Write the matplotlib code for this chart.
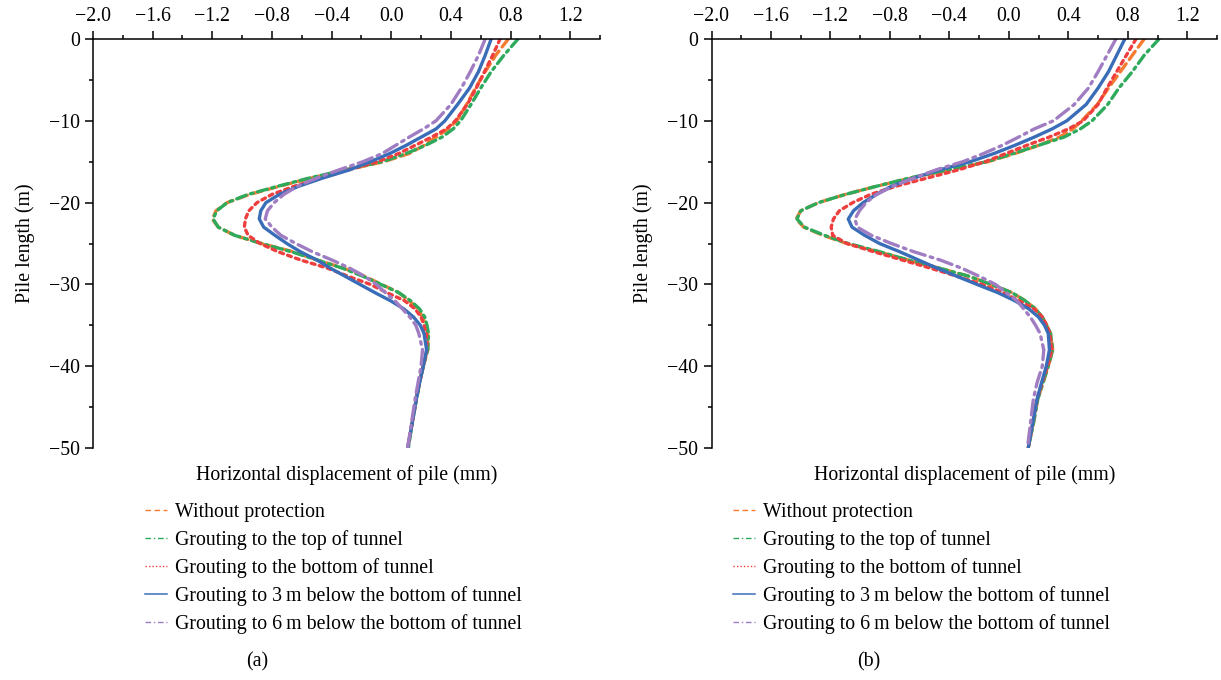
import matplotlib
matplotlib.use("Agg")
import matplotlib.pyplot as plt
from matplotlib.lines import Line2D
from matplotlib.ticker import MultipleLocator

plt.rcParams["font.family"] = ["Liberation Serif", "DejaVu Serif"]
plt.rcParams["font.size"] = 14.3

# pile depth (m), shared by every curve
depth = [0, -2, -4, -6, -8, -10, -11, -12, -13, -14, -15, -16, -17, -18, -19,
         -20, -21, -22, -23, -24, -25, -26, -27, -28, -29, -30, -31, -32, -33,
         -34, -35, -36, -38, -40, -42, -44, -47, -50]

labels = ["Without protection",
          "Grouting to the top of tunnel",
          "Grouting to the bottom of tunnel",
          "Grouting to 3\u2009m below the bottom of tunnel",
          "Grouting to 6\u2009m below the bottom of tunnel"]

# ---- panel (a): horizontal displacement (mm)
a_without = [0.785, 0.70, 0.63, 0.565, 0.505, 0.44, 0.38, 0.30, 0.22, 0.12, -0.05, -0.30, -0.54, -0.75, -0.95,
             -1.10, -1.175, -1.20, -1.16, -1.05, -0.87, -0.66, -0.50, -0.32, -0.18, -0.065, 0.05, 0.12, 0.18,
             0.21, 0.23, 0.245, 0.245, 0.215, 0.19, 0.168, 0.14, 0.11]
a_top = [0.85, 0.755, 0.67, 0.60, 0.535, 0.465, 0.415, 0.34, 0.23, 0.10, -0.06, -0.31, -0.55, -0.76, -0.96,
         -1.10, -1.17, -1.195, -1.16, -1.05, -0.87, -0.67, -0.50, -0.33, -0.19, -0.07, 0.05, 0.13, 0.19,
         0.225, 0.24, 0.25, 0.245, 0.215, 0.19, 0.17, 0.14, 0.115]
a_bottom = [0.73, 0.68, 0.625, 0.57, 0.51, 0.43, 0.37, 0.27, 0.16, 0.05, -0.09, -0.29, -0.47, -0.65, -0.80,
            -0.90, -0.955, -0.978, -0.985, -0.96, -0.88, -0.76, -0.61, -0.43, -0.29, -0.14, -0.03, 0.09, 0.16,
            0.20, 0.22, 0.235, 0.24, 0.215, 0.19, 0.168, 0.14, 0.11]
a_3m = [0.67, 0.63, 0.585, 0.525, 0.445, 0.36, 0.30, 0.20, 0.10, -0.01, -0.14, -0.28, -0.46, -0.62, -0.75,
        -0.84, -0.875, -0.885, -0.855, -0.78, -0.70, -0.61, -0.50, -0.41, -0.31, -0.21, -0.11, -0.005, 0.085,
        0.15, 0.195, 0.22, 0.237, 0.215, 0.19, 0.168, 0.14, 0.11]
a_6m = [0.63, 0.585, 0.53, 0.47, 0.40, 0.30, 0.215, 0.12, 0.03, -0.06, -0.19, -0.35, -0.50, -0.63, -0.72,
        -0.785, -0.83, -0.845, -0.80, -0.74, -0.64, -0.53, -0.40, -0.28, -0.18, -0.10, -0.04, 0.025, 0.075,
        0.125, 0.165, 0.185, 0.21, 0.20, 0.18, 0.16, 0.135, 0.11]

# ---- panel (b)
b_without = [0.91, 0.83, 0.75, 0.67, 0.595, 0.49, 0.43, 0.34, 0.20, 0.04, -0.14, -0.40, -0.66, -0.89, -1.10,
             -1.28, -1.40, -1.43, -1.38, -1.25, -1.09, -0.88, -0.68, -0.47, -0.27, -0.12, 0.02, 0.11, 0.18,
             0.225, 0.255, 0.28, 0.295, 0.265, 0.23, 0.195, 0.165, 0.13]
b_top = [1.01, 0.91, 0.83, 0.74, 0.665, 0.56, 0.48, 0.37, 0.20, 0.03, -0.15, -0.41, -0.67, -0.89, -1.10,
         -1.28, -1.40, -1.425, -1.375, -1.24, -1.08, -0.87, -0.68, -0.47, -0.27, -0.12, 0.02, 0.11, 0.18,
         0.225, 0.255, 0.28, 0.295, 0.265, 0.23, 0.195, 0.165, 0.13]
b_bottom = [0.855, 0.79, 0.725, 0.66, 0.60, 0.50, 0.40, 0.27, 0.12, -0.02, -0.16, -0.34, -0.55, -0.76, -0.93,
            -1.05, -1.14, -1.18, -1.195, -1.185, -1.09, -0.91, -0.72, -0.53, -0.35, -0.18, -0.04, 0.07, 0.17,
            0.225, 0.255, 0.275, 0.29, 0.26, 0.225, 0.19, 0.16, 0.13]
b_3m = [0.78, 0.725, 0.67, 0.60, 0.52, 0.39, 0.29, 0.17, 0.04, -0.10, -0.26, -0.465, -0.64, -0.79, -0.89,
        -0.98, -1.045, -1.08, -1.055, -0.97, -0.87, -0.735, -0.61, -0.485, -0.35, -0.215, -0.075, 0.04, 0.135,
        0.20, 0.24, 0.265, 0.273, 0.252, 0.22, 0.19, 0.16, 0.13]
b_6m = [0.72, 0.66, 0.60, 0.535, 0.44, 0.30, 0.17, 0.065, -0.045, -0.17, -0.31, -0.49, -0.64, -0.78, -0.89,
        -0.96, -1.005, -1.035, -1.02, -0.925, -0.79, -0.64, -0.465, -0.32, -0.20, -0.09, -0.02, 0.055, 0.10,
        0.145, 0.18, 0.21, 0.235, 0.225, 0.19, 0.165, 0.145, 0.125]

colors = ["#F47B30", "#2EAA5C", "#EF3E3E", "#3A6DB8", "#A07DC2"]
dashes = [(3, 1.6), (3, 1.4, 0.8, 1.4), (1.2, 1.3), None, (4.5, 1.6, 0.8, 1.6)]
leg_dashes = [(4, 2.5), (4, 2, 1, 2), (1, 1.5), None, (4, 2, 1, 2)]


def draw_panel(ax, series, leg_x):
    for vals, c, d in zip(series, colors, dashes):
        if d is None:
            ax.plot(vals, depth, color=c, lw=2.4, solid_capstyle="round")
        else:
            ax.plot(vals, depth, color=c, lw=2.4, dashes=d, dash_capstyle="round")
    ax.set_xlim(-2.0, 1.4)
    ax.set_ylim(-50, 0)
    ax.xaxis.tick_top()
    ax.xaxis.set_label_position("bottom")
    ax.xaxis.set_major_locator(MultipleLocator(0.4))
    ax.xaxis.set_minor_locator(MultipleLocator(0.2))
    ax.yaxis.set_major_locator(MultipleLocator(10))
    ax.yaxis.set_minor_locator(MultipleLocator(5))
    ax.xaxis.set_major_formatter(plt.FuncFormatter(lambda v, p: f"{v:.1f}".replace("-", "\u2212")))
    ax.tick_params(which="major", length=6, width=1.1, direction="out")
    ax.tick_params(which="minor", length=3, width=1.1, direction="out")
    for s in ["right", "bottom"]:
        ax.spines[s].set_visible(False)
    for s in ["top", "left"]:
        ax.spines[s].set_linewidth(1.1)
    ax.set_xlabel("Horizontal displacement of pile (mm)", labelpad=12)
    ax.set_ylabel("Pile length (m)")
    ax.yaxis.set_label_coords(-0.115, 0.5)

    handles = []
    for lab, c, d in zip(labels, colors, leg_dashes):
        if d is None:
            handles.append(Line2D([], [], color=c, lw=1.1, label=lab))
        else:
            handles.append(Line2D([], [], color=c, lw=1.0, dashes=d, label=lab))
    ax.legend(handles=handles, loc="upper left", bbox_to_anchor=(leg_x, -0.134),
              frameon=False, borderpad=0, borderaxespad=0, handlelength=1.1,
              handletextpad=0.4, labelspacing=0.41)


fig = plt.figure(figsize=(12.21, 6.8), dpi=100)
ax_a = fig.add_axes([93 / 1221, 1 - 448 / 680, 507 / 1221, 409 / 680])
ax_b = fig.add_axes([711.5 / 1221, 1 - 448 / 680, 505.5 / 1221, 409 / 680])

draw_panel(ax_a, [a_without, a_top, a_bottom, a_3m, a_6m], 0.103)
draw_panel(ax_b, [b_without, b_top, b_bottom, b_3m, b_6m], 0.043)

fig.text(257 / 1221, 1 - 662 / 680, "(a)", ha="center", va="center")
fig.text(869 / 1221, 1 - 662 / 680, "(b)", ha="center", va="center")

fig.savefig("out.png", dpi=100)
